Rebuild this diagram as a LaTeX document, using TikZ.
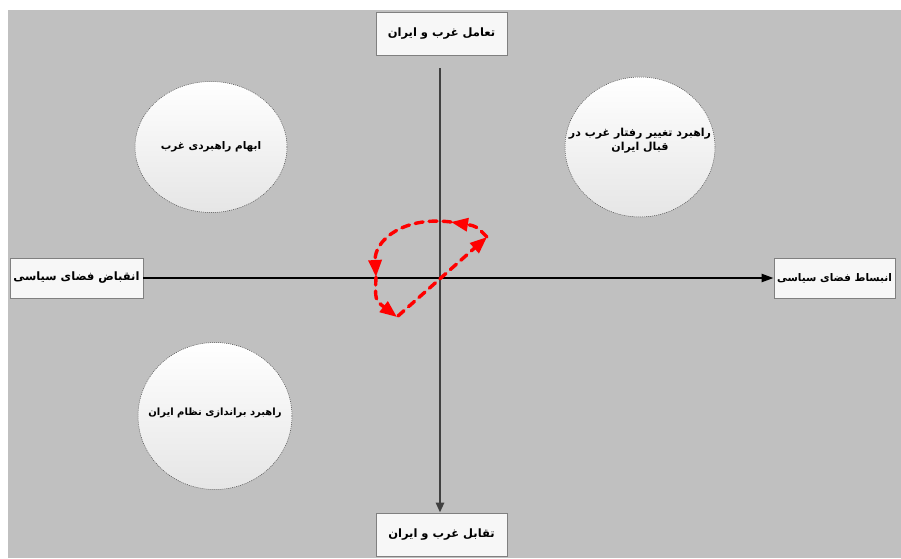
\documentclass[tikz,border=0pt]{standalone}
\usepackage{fontspec}
\newfontfamily\fa[Script=Arabic]{DejaVu Sans}
\TeXXeTstate=1
\usetikzlibrary{arrows.meta,shapes.geometric}
\definecolor{bggray}{RGB}{192,192,192}
\definecolor{axisgray}{RGB}{64,64,64}
\definecolor{boxborder}{RGB}{128,128,128}
\tikzset{
  labelbox/.style={draw=boxborder, line width=0.8pt, fill=white!97!black, inner sep=0pt,
    font=\fa\bfseries\fontsize{11.5}{13}\selectfont},
  bubble/.style={ellipse, draw=black!70, line width=0.5pt, dash pattern=on 1pt off 1pt,
    top color=white, bottom color=black!10, inner sep=0pt},
  bubbletext/.style={inner sep=0pt, align=center, font=\fa\bfseries\fontsize{10.5}{14}\selectfont},
  redloop/.style={red, line width=3.4pt, dash pattern=on 8pt off 6pt, line cap=round,
    -{Triangle[length=17pt,width=13pt]}},
}
\begin{document}
\begin{tikzpicture}[x=1pt,y=-1pt]
\useasboundingbox (0,0) rectangle (901,558);
\fill[white] (0,0) rectangle (901,558);
\fill[bggray] (8,10) rectangle (901,558);

% boxes
\node[labelbox, minimum width=131, minimum height=43] (top) at (441.5,33.5) {\beginR تعامل غرب و ایران\endR};
\node[labelbox, minimum width=133, minimum height=40] (left) at (76.5,278) {\beginR انقباض فضای سیاسی\endR};
\node[labelbox, minimum width=121, minimum height=40, font=\fa\bfseries\fontsize{10.5}{13}\selectfont] (right) at (834.5,278) {\beginR انبساط فضای سیاسی\endR};
\node[labelbox, minimum width=131, minimum height=43] (bottom) at (441.5,534.5) {\beginR تقابل غرب و ایران\endR};

% bubbles
\node[bubble, minimum width=152, minimum height=131] (tl) at (211,147) {};
\node[bubbletext] (tltext) at (tl) {\beginR ابهام راهبردی غرب\endR};
\node[bubble, minimum width=150, minimum height=140] (tr) at (640,147) {};
\node[bubbletext, font=\fa\bfseries\fontsize{11}{14}\selectfont] (trtext) at (640,141) {\beginR راهبرد تغییر رفتار غرب در\endR\\\beginR قبال ایران\endR};
\node[bubble, minimum width=154, minimum height=147] (bl) at (215,416) {};
\node[bubbletext, font=\fa\bfseries\fontsize{10}{14}\selectfont] (bltext) at (215,413) {\beginR راهبرد براندازی نظام ایران\endR};

% axes
\coordinate (vtop) at (440,68);
\draw[axisgray, line width=2.8pt, -{Triangle[length=10pt,width=8pt]}] (vtop) -- (vtop |- bottom.north);
\draw[black, line width=2.2pt, -{Triangle[length=12pt,width=8pt]}] (left.east) -- (right.west);

% red loop
\coordinate (A) at (398,316);
\coordinate (B) at (487,237);
\coordinate (D) at (451,222);
\coordinate (C) at (376,277);
\coordinate (E) at (397,317);
\draw[redloop] (A) -- (B);
\draw[redloop] (B) .. controls (476,226) .. (D);
\draw[redloop] (D) .. controls (404,216) and (374,240) .. (C);
\draw[redloop] (C) .. controls (375,300) .. (E);
\end{tikzpicture}
\end{document}
